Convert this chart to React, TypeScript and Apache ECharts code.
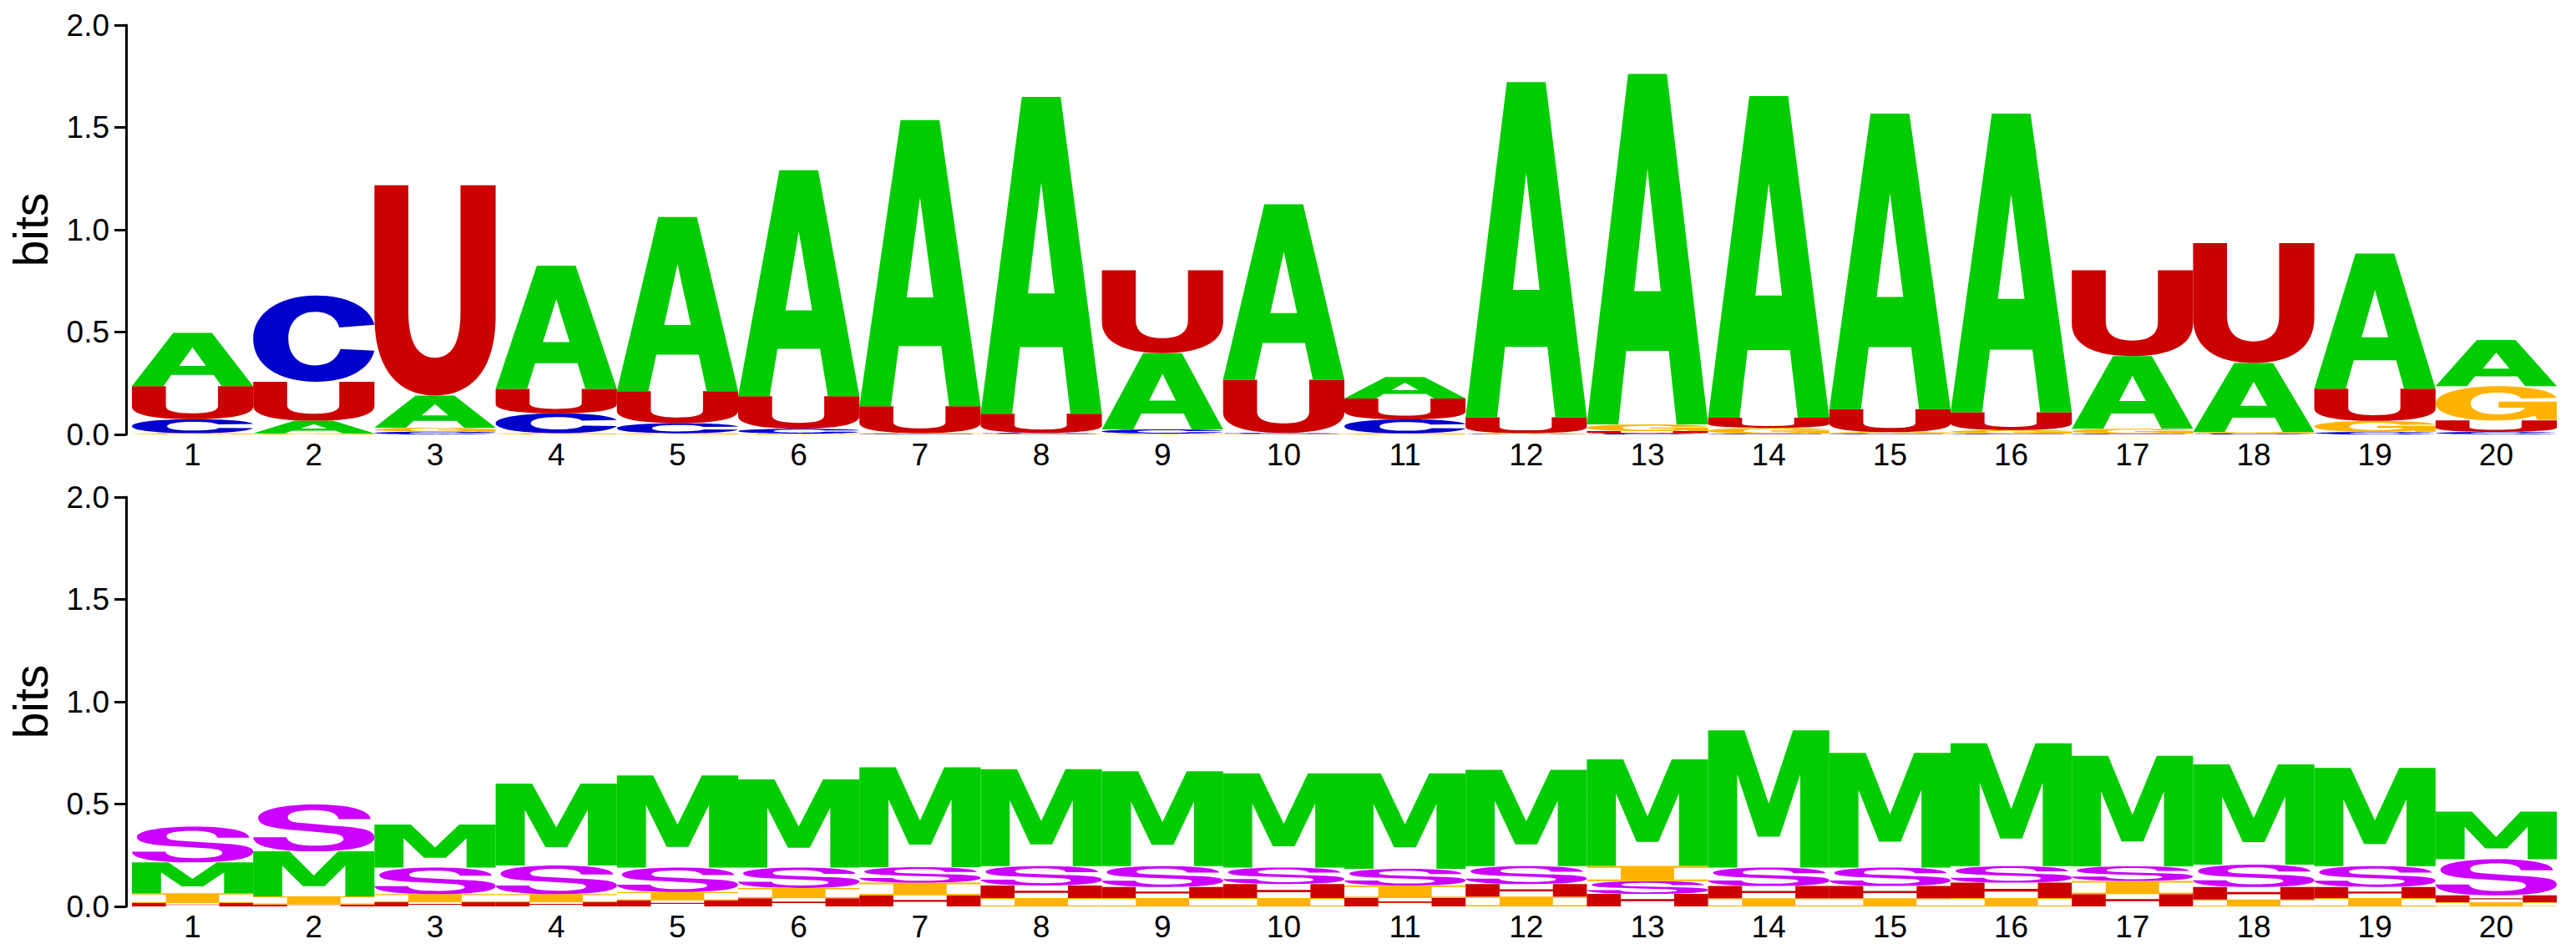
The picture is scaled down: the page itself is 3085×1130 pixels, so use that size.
import React, { useEffect, useRef } from "react";
import * as echarts from "echarts";

// ---------- data ----------
const positions = ["1","2","3","4","5","6","7","8","9","10","11","12","13","14","15","16","17","18","19","20"];
const yTicks = [0, 0.5, 1, 1.5, 2];

// top panel: nucleotide heights (bits)
const rnaLetters = ["A", "C", "G", "U"];
const rnaA = [0.26, 0.062, 0.157, 0.602, 0.851, 1.104, 1.398, 1.548, 0.373, 0.857, 0.105, 1.637, 1.712, 1.571, 1.444, 1.459, 0.355, 0.338, 0.661, 0.225];
const rnaC = [0.068, 0.422, 0.013, 0.097, 0.05, 0.024, 0.003, 0.004, 0.02, 0.004, 0.068, 0.002, 0.004, 0.003, 0.003, 0.003, 0.003, 0.004, 0.012, 0.012];
const rnaG = [0.006, 0.005, 0.02, 0.006, 0.005, 0.004, 0.003, 0.003, 0.004, 0.003, 0.005, 0.004, 0.033, 0.029, 0.008, 0.018, 0.025, 0.007, 0.054, 0.168];
const rnaU = [0.162, 0.19, 1.027, 0.119, 0.156, 0.159, 0.132, 0.094, 0.405, 0.26, 0.103, 0.078, 0.012, 0.05, 0.112, 0.087, 0.419, 0.586, 0.157, 0.056];

// bottom panel: structure heights (bits)
const strLetters = ["M", "S", "H", "I"];
const strM = [0.151, 0.22, 0.21, 0.40, 0.45, 0.43, 0.488, 0.473, 0.463, 0.46, 0.466, 0.47, 0.52, 0.67, 0.56, 0.60, 0.54, 0.49, 0.48, 0.232];
const strS = [0.175, 0.229, 0.13, 0.14, 0.12, 0.10, 0.076, 0.095, 0.102, 0.081, 0.082, 0.088, 0.062, 0.09, 0.09, 0.081, 0.072, 0.109, 0.102, 0.177];
const strH = [0.016, 0.009, 0.02, 0.02, 0.03, 0.04, 0.054, 0.061, 0.054, 0.068, 0.041, 0.061, 0.061, 0.06, 0.06, 0.075, 0.06, 0.061, 0.054, 0.034];
const strI = [0.048, 0.04, 0.04, 0.04, 0.04, 0.05, 0.062, 0.041, 0.041, 0.041, 0.061, 0.048, 0.075, 0.04, 0.04, 0.041, 0.064, 0.034, 0.041, 0.02];

// ---------- glyphs (unit box 100x100, y down) ----------
const GLYPHS: Record<string, string> = {
  A: "M0,100 L34,0 L66,0 L100,100 L74,100 L67.5,79 L32.5,79 L26,100 Z M39,62 L61,62 L50,27 Z",
  U: "M0,0 L28,0 L28,60 C28,75 36,82 50,82 C64,82 71,75 71,60 L71,0 L100,0 L100,62 C100,88 80,100 50,100 C20,100 0,88 0,62 Z",
  C: "M100,34 C96,12 76,0 52,0 C20,0 0,22 0,50 C0,80 20,100 52,100 C78,100 96,86 100,64 L72,62 C69,74 62,81 51,81 C36,81 29,67 29,50 C29,32 37,19 51,19 C62,19 69,26 71,37 Z",
  G: "M100,34 C96,12 76,0 52,0 C20,0 0,22 0,50 C0,80 20,100 50,100 C63,100 74,95 82,86 L84,98 L100,98 L100,45 L52,45 L52,63 L74,63 C72,75 63,82 51,82 C36,82 29,68 29,50 C29,32 37,19 51,19 C61,19 68,25 71,36 Z",
  M: "M0,100 L0,0 L30,0 L50,53.5 L70,0 L100,0 L100,100 L76,100 L76,32 L59,77.5 L41,77.5 L24,32 L24,100 Z",
  S: "M96,31 C95,11 78,0 51,0 C24,0 5,12 5,29 C5,45 17,51 36,55 L62,61 C71,63 74,67 74,74 C74,83 64,88 51,88 C37,88 29,82 28,70 L1,70 C1,90 20,100 50,100 C81,100 99,89 99,70 C99,53 87,49 64,45 L38,39 C32,37 29,34 29,27 C29,17 38,12 50,12 C62,12 69,18 70,31 Z",
  H: "M0,0 L28,0 L28,41 L72,41 L72,0 L100,0 L100,100 L72,100 L72,58 L28,58 L28,100 L0,100 Z",
  I: "M0,0 L100,0 L100,12 L72,12 L72,88 L100,88 L100,100 L0,100 L0,88 L28,88 L28,12 L0,12 Z",
};

const COLORS: Record<string, string> = {
  A: "#00CC00", M: "#00CC00",
  C: "#0000CC",
  G: "#FFB300", I: "#FFB300",
  U: "#CC0000", H: "#CC0000",
  S: "#CC00FF",
};

function stackData(letters: string[], cols: number[][]) {
  const out: number[][] = [];
  for (let p = 0; p < positions.length; p++) {
    const items = letters.map((l, li) => ({ li, h: cols[li][p] }));
    items.sort((a, b) => a.h - b.h);
    let acc = 0;
    for (const it of items) {
      out.push([p, acc, acc + it.h, it.li]);
      acc += it.h;
    }
  }
  return out;
}

function makeRender(letters: string[]) {
  return (_params: any, api: any) => {
    const idx = api.value(0);
    const y0 = api.value(1);
    const y1 = api.value(2);
    const letter = letters[api.value(3)];
    const top = api.coord([idx, y1]);
    const bot = api.coord([idx, y0]);
    const w = api.size([1, 0])[0];
    const h = bot[1] - top[1];
    if (h < 0.4) return null;
    return {
      type: "path",
      shape: {
        pathData: GLYPHS[letter],
        x: top[0] - w / 2,
        y: top[1],
        width: w,
        height: h,
        layout: "cover",
      },
      style: { fill: COLORS[letter], stroke: null },
    };
  };
}

const FONT = "Liberation Sans";

function yAxisCfg(gridIndex: number) {
  return {
    type: "value",
    gridIndex,
    min: yTicks[0],
    max: yTicks[yTicks.length - 1],
    interval: 0.5,
    offset: 7,
    name: "bits",
    nameLocation: "middle",
    nameGap: 86,
    nameTextStyle: { fontSize: 57, fontFamily: FONT, color: "#000" },
    axisLine: { show: true, lineStyle: { color: "#000", width: 3 } },
    axisTick: { show: true, length: 14, lineStyle: { color: "#000", width: 3 } },
    axisLabel: {
      fontSize: 37,
      fontFamily: FONT,
      color: "#000",
      margin: 20,
      formatter: (v: number) => v.toFixed(1),
    },
    splitLine: { show: false },
  };
}

function xAxisCfg(gridIndex: number) {
  return {
    type: "category",
    gridIndex,
    data: positions,
    boundaryGap: true,
    axisLine: { show: false },
    axisTick: { show: false },
    axisLabel: { fontSize: 37, fontFamily: FONT, color: "#000", margin: 6, interval: 0 },
    splitLine: { show: false },
  };
}

export default function App() {
  const ref = useRef<HTMLDivElement>(null);
  useEffect(() => {
    if (!ref.current) return;
    const chart = echarts.init(ref.current, null, { renderer: "svg" });
    const topData = stackData(rnaLetters, [rnaA, rnaC, rnaG, rnaU]);
    const botData = stackData(strLetters, [strM, strS, strH, strI]);
    chart.setOption({
      animation: false,
      backgroundColor: "#fff",
      grid: [
        { left: 152, right: 23, top: 30, height: 490 },
        { left: 152, right: 23, top: 595, height: 490 },
      ],
      xAxis: [xAxisCfg(0), xAxisCfg(1)],
      yAxis: [yAxisCfg(0), yAxisCfg(1)],
      series: [
        {
          type: "custom",
          xAxisIndex: 0,
          yAxisIndex: 0,
          renderItem: makeRender(rnaLetters),
          encode: { x: 0, y: [1, 2] },
          data: topData,
          clip: false,
        },
        {
          type: "custom",
          xAxisIndex: 1,
          yAxisIndex: 1,
          renderItem: makeRender(strLetters),
          encode: { x: 0, y: [1, 2] },
          data: botData,
          clip: false,
        },
      ],
    });
    return () => chart.dispose();
  }, []);
  return (
    <div
      ref={ref}
      style={{ position: "absolute", left: 0, top: 0, width: 3085, height: 1130 }}
    />
  );
}
